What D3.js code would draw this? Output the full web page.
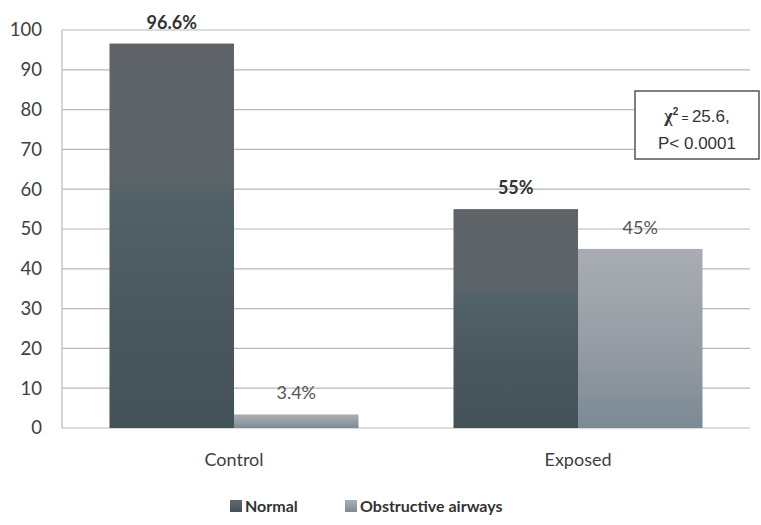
<!DOCTYPE html>
<html><head><meta charset="utf-8">
<script src="https://cdn.jsdelivr.net/npm/d3@7"></script>
<style>body{margin:0;background:#fff}svg{display:block}</style>
</head><body>
<script>
const categories = ["Control", "Exposed"];
const seriesNames = ["Normal", "Obstructive airways"];
const normalValues = [96.6, 55];
const obstructiveValues = [3.4, 45];
const valueLabels = [["96.6%", "3.4%"], ["55%", "45%"]];
const yTicks = [0,10,20,30,40,50,60,70,80,90,100];

const W = 761, H = 525;
const m = {left: 62, right: 11, top: 30, bottom: 98};
const svg = d3.select("body").append("svg").attr("width", W).attr("height", H);
const font = "Lato, 'Open Sans', sans-serif";

const defs = svg.append("defs");
function grad(id, stops){
  const g = defs.append("linearGradient").attr("id", id).attr("x1",0).attr("y1",0).attr("x2",0).attr("y2",1);
  stops.forEach(s => g.append("stop").attr("offset", s[0]).attr("stop-color", s[1]));
}
grad("gN", [[0,"#5f6368"],[0.35,"#5b6469"],[0.42,"#516168"],[0.7,"#4b575e"],[1,"#435259"]]);
grad("gO", [[0,"#a9adb3"],[0.3,"#9fa4ab"],[0.6,"#939aa2"],[1,"#7b8a93"]]);

const x0 = d3.scaleBand().domain(categories).range([m.left, W - m.right]).padding(0);
const x1 = d3.scaleBand().domain(seriesNames).range([0, x0.bandwidth()]).paddingInner(0).paddingOuter(0.3815);
const y = d3.scaleLinear().domain([0, 100]).range([H - m.bottom + 1, m.top]);

// gridlines
svg.append("g").selectAll("line").data(yTicks).join("line")
  .attr("x1", m.left).attr("x2", W - m.right)
  .attr("y1", d => y(d)).attr("y2", d => y(d))
  .attr("stroke", "#b8b8b8").attr("stroke-width", 1.2);
svg.append("line").attr("x1", m.left).attr("x2", m.left).attr("y1", y(100)).attr("y2", y(0))
  .attr("stroke", "#b8b8b8").attr("stroke-width", 1.2);

// y axis
const yAxis = d3.axisLeft(y).tickValues(yTicks).tickSize(0).tickPadding(20);
const ya = svg.append("g").attr("transform", `translate(${m.left},0)`).call(yAxis);
ya.select(".domain").remove();
ya.selectAll("text").attr("font-family", font).attr("font-size", 18.5).attr("fill", "#404040");

// x axis labels
const xAxis = d3.axisBottom(x0).tickSize(0).tickPadding(25);
const xa = svg.append("g").attr("transform", `translate(0,${y(0)})`).call(xAxis);
xa.select(".domain").remove();
xa.selectAll("text").attr("font-family", font).attr("font-size", 18).attr("fill", "#404040");

// bars
const rows = categories.map((c, i) => ({cat: c, vals: [normalValues[i], obstructiveValues[i]], labels: valueLabels[i]}));
const groups = svg.append("g").selectAll("g").data(rows).join("g")
  .attr("transform", d => `translate(${x0(d.cat)},0)`);
groups.selectAll("rect").data(d => d.vals.map((v, j) => ({v, s: seriesNames[j], j})))
  .join("rect")
  .attr("x", d => x1(d.s)).attr("width", x1.bandwidth())
  .attr("y", d => y(d.v)).attr("height", d => y(0) - y(d.v))
  .attr("fill", d => d.j === 0 ? "url(#gN)" : "url(#gO)");
groups.selectAll("text").data(d => d.vals.map((v, j) => ({v, s: seriesNames[j], j, lab: d.labels[j]})))
  .join("text")
  .attr("x", d => x1(d.s) + x1.bandwidth()/2)
  .attr("y", d => y(d.v) - 15)
  .attr("text-anchor", "middle")
  .attr("font-family", font).attr("font-size", 18)
  .attr("font-weight", (d, i) => d.j === 0 ? "bold" : "normal")
  .attr("fill", d => d.j === 0 ? "#333" : "#555")
  .text(d => d.lab);

// annotation box
const bx = 635, by = 91, bw = 124, bh = 68;
svg.append("rect").attr("x", bx).attr("y", by).attr("width", bw).attr("height", bh)
  .attr("fill", "#fff").attr("stroke", "#555").attr("stroke-width", 1.5);
const t1 = svg.append("text").attr("x", bx + bw/2).attr("y", by + 31).attr("text-anchor", "middle")
  .attr("font-family", "'Liberation Sans', Arial, sans-serif").attr("font-size", 17).attr("fill", "#333");
t1.append("tspan").attr("font-family", "'Liberation Serif', serif").attr("font-weight", "bold").attr("font-size", 18).text("χ");
t1.append("tspan").attr("dy", -7).attr("font-size", 10).attr("font-weight", "bold").text("2");
t1.append("tspan").attr("dy", 7).attr("font-size", 12).text(" = ");
t1.append("tspan").text("25.6,");
svg.append("text").attr("x", bx + bw/2).attr("y", by + 58).attr("text-anchor", "middle")
  .attr("font-family", "'Liberation Sans', Arial, sans-serif").attr("font-size", 17).attr("fill", "#333")
  .text("P< 0.0001");

// legend
const legend = svg.append("g").attr("transform", "translate(0,506)");
const legX = [230, 345];
seriesNames.forEach((s, i) => {
  legend.append("rect").attr("x", legX[i]).attr("y", -6).attr("width", 12).attr("height", 12)
    .attr("fill", i === 0 ? "url(#gN)" : "url(#gO)");
  legend.append("text").attr("x", legX[i] + 15).attr("y", 6)
    .attr("font-family", font).attr("font-size", 16).attr("font-weight", "bold").attr("fill", "#333")
    .text(s);
});
</script>
</body></html>
